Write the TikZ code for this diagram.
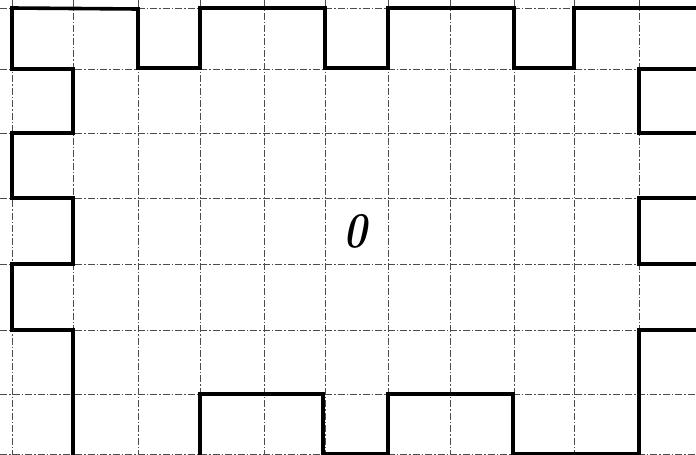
\documentclass[tikz,border=0pt]{standalone}
\begin{document}
\begin{tikzpicture}[x=1pt,y=-1pt,
  gridline/.style={black!70,line width=0.9pt,dash pattern=on 7pt off 2pt on 1.5pt off 2pt},
  wall/.style={black,line width=3.6pt,line join=miter,line cap=rect}]
\useasboundingbox (0,0) rectangle (696,455);
\clip (0,0) rectangle (696,455);
\fill[white] (0,0) rectangle (696,455);
% grid
\foreach \gx in {12,73,138,200,264,325,388,450,514,574,639}
  \draw[gridline] (\gx,0) -- (\gx,455);
\foreach \gy in {8,69,133,198,264,330,394,454}
  \draw[gridline] (0,\gy) -- (696,\gy);
% thick boundary
\draw[wall] (73,460) -- (73,330) -- (12,330) -- (12,264) -- (73,264) -- (73,198)
  -- (12,198) -- (12,133) -- (73,133) -- (73,69) -- (12,69) -- (12,8)
  -- (138,9) -- (138,68) -- (200,68) -- (200,8) -- (325,8) -- (325,68)
  -- (388,68) -- (388,8) -- (514,8) -- (514,68) -- (574,68) -- (574,8) -- (700,8);
\draw[wall] (700,69) -- (639,69) -- (639,133) -- (700,133);
\draw[wall] (700,198) -- (639,198) -- (639,264) -- (700,264);
\draw[wall] (700,330) -- (639,330) -- (639,454) -- (513,454) -- (513,394)
  -- (388,394) -- (388,454) -- (323,454) -- (323,394) -- (200,394) -- (200,460);
% label
\node[inner sep=0pt,xscale=0.8] (zero) at (355,231) {\fontsize{50}{50}\selectfont\bfseries\itshape 0};
\end{tikzpicture}
\end{document}
